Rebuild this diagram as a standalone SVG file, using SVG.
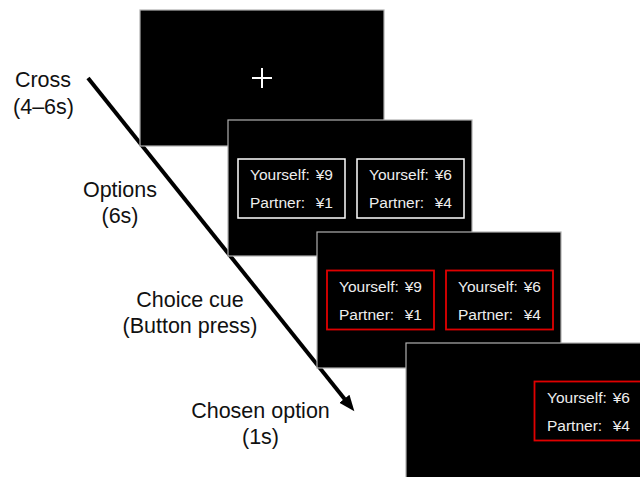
<svg xmlns="http://www.w3.org/2000/svg" width="640" height="477" viewBox="0 0 640 477">
<style>
.lbl{font-family:"Liberation Sans",Arial,sans-serif;font-size:21.5px;fill:#111;text-anchor:middle}
.scr{fill:#000;stroke:#b0b0b0;stroke-width:1.2}
.box{fill:none;stroke:#fff;stroke-width:1.5}
.rbox{fill:none;stroke:#e00000;stroke-width:1.8}
.t{font-family:"Liberation Sans",Arial,sans-serif;font-size:15.5px;fill:#eee}
.e{text-anchor:end}
</style>
<defs>
<marker id="ah" markerUnits="userSpaceOnUse" markerWidth="20" markerHeight="20" viewBox="0 -10 20 20" refX="1" refY="0" orient="auto">
<path d="M0,-6.5 L16,0 L0,6.5 z" fill="#000"/>
</marker>
</defs>
<rect width="640" height="477" fill="#fff"/>
<g id="connectors">
<line x1="88" y1="78" x2="345" y2="399.5" stroke="#000" stroke-width="4" marker-end="url(#ah)"/>
</g>
<g id="screen-cross">
<rect class="scr" x="140" y="10" width="244" height="136"/>
<path d="M252 78 H272 M262 68 V88" stroke="#fff" stroke-width="2"/>
</g>
<g id="screen-options">
<rect class="scr" x="228" y="120" width="244" height="136"/>
<rect class="box" x="238" y="159" width="107" height="59"/>
<text class="t" y="180"><tspan x="250">Yourself:</tspan><tspan class="e" x="333">¥9</tspan></text>
<text class="t" y="208"><tspan x="250">Partner:</tspan><tspan class="e" x="333">¥1</tspan></text>
<rect class="box" x="357" y="159" width="107" height="59"/>
<text class="t" y="180"><tspan x="369">Yourself:</tspan><tspan class="e" x="452">¥6</tspan></text>
<text class="t" y="208"><tspan x="369">Partner:</tspan><tspan class="e" x="452">¥4</tspan></text>
</g>
<g id="screen-choice">
<rect class="scr" x="317" y="232" width="244" height="136"/>
<rect class="rbox" x="327" y="270.5" width="107" height="59"/>
<text class="t" y="291.5"><tspan x="339">Yourself:</tspan><tspan class="e" x="422">¥9</tspan></text>
<text class="t" y="319.5"><tspan x="339">Partner:</tspan><tspan class="e" x="422">¥1</tspan></text>
<rect class="rbox" x="446" y="270.5" width="107" height="59"/>
<text class="t" y="291.5"><tspan x="458">Yourself:</tspan><tspan class="e" x="541">¥6</tspan></text>
<text class="t" y="319.5"><tspan x="458">Partner:</tspan><tspan class="e" x="541">¥4</tspan></text>
</g>
<g id="screen-chosen">
<rect class="scr" x="406" y="343" width="244" height="136"/>
<rect class="rbox" x="534.5" y="381.5" width="107" height="59"/>
<text class="t" y="402.5"><tspan x="547">Yourself:</tspan><tspan class="e" x="630">¥6</tspan></text>
<text class="t" y="430.5"><tspan x="547">Partner:</tspan><tspan class="e" x="630">¥4</tspan></text>
</g>
<g id="labels">
<text class="lbl" x="43" y="87">Cross</text>
<text class="lbl" x="43.5" y="114">(4–6s)</text>
<text class="lbl" x="120" y="197">Options</text>
<text class="lbl" x="120" y="223">(6s)</text>
<text class="lbl" x="190" y="307">Choice cue</text>
<text class="lbl" x="190" y="333">(Button press)</text>
<text class="lbl" x="260.5" y="418">Chosen option</text>
<text class="lbl" x="260.5" y="444">(1s)</text>
</g>
</svg>
